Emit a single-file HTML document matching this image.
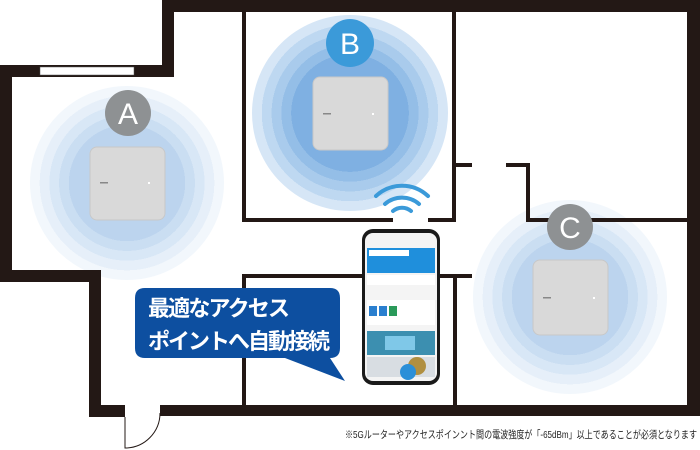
<!DOCTYPE html>
<html><head><meta charset="utf-8"><style>
html,body{margin:0;padding:0;background:#fff;}
svg{display:block;}
text{font-family:"Liberation Sans","Noto Sans CJK JP",sans-serif;}
</style></head><body>
<svg width="700" height="450" viewBox="0 0 700 450" xmlns="http://www.w3.org/2000/svg">
<defs>
<radialGradient id="gb" cx="0.5" cy="0.5" r="0.5">
<stop offset="0.6" stop-color="#7fb0e2"/><stop offset="0.6" stop-color="#94bee7"/>
<stop offset="0.7" stop-color="#94bee7"/><stop offset="0.7" stop-color="#a9cbec"/>
<stop offset="0.8" stop-color="#a9cbec"/><stop offset="0.8" stop-color="#bed8f1"/>
<stop offset="0.9" stop-color="#bed8f1"/><stop offset="0.9" stop-color="#d6e6f6"/>
<stop offset="1" stop-color="#d6e6f6"/>
</radialGradient>
<radialGradient id="ga" cx="0.5" cy="0.5" r="0.5">
<stop offset="0.6" stop-color="#bcd4ee"/><stop offset="0.6" stop-color="#cadef2"/>
<stop offset="0.7" stop-color="#cadef2"/><stop offset="0.7" stop-color="#d8e7f6"/>
<stop offset="0.8" stop-color="#d8e7f6"/><stop offset="0.8" stop-color="#e6eff9"/>
<stop offset="0.9" stop-color="#e6eff9"/><stop offset="0.9" stop-color="#f2f7fc"/>
<stop offset="1" stop-color="#f2f7fc"/>
</radialGradient>
</defs>
<circle cx="127" cy="183" r="97" fill="url(#ga)"/>
<circle cx="350" cy="113" r="98" fill="url(#gb)"/>
<circle cx="570" cy="297" r="97" fill="url(#ga)"/>

<g fill="#231815">
<rect x="162" y="0" width="538" height="12"/>
<rect x="162" y="0" width="12" height="77"/>
<rect x="0" y="65" width="174" height="12"/>
<rect x="0" y="65" width="12" height="217"/>
<rect x="0" y="270" width="101" height="12"/>
<rect x="89" y="270" width="12" height="147"/>
<rect x="89" y="405" width="36" height="12"/>
<rect x="160" y="405" width="540" height="11"/>
<rect x="687" y="0" width="13" height="416"/>
</g>
<rect x="40" y="67" width="94" height="8" fill="#fff" stroke="#555" stroke-width="0.5"/>
<path d="M125 417 L125 448 A35 35 0 0 0 160 413" fill="none" stroke="#231815" stroke-width="1"/>

<g fill="#231815">
<rect x="242" y="12" width="4" height="210"/>
<rect x="242" y="218" width="151" height="4"/>
<rect x="428" y="218" width="28" height="4"/>
<rect x="452" y="12" width="4" height="210"/>
<rect x="452" y="163" width="20" height="4"/>
<rect x="506" y="163" width="24" height="4"/>
<rect x="526" y="163" width="4" height="59"/>
<rect x="526" y="218" width="161" height="4"/>
<rect x="242" y="274" width="4" height="131"/>
<rect x="242" y="274" width="230" height="4"/>
<rect x="453" y="274" width="4" height="131"/>
</g>

<g>
<rect x="90" y="147" width="75" height="73" rx="7" fill="#d9d9d9" stroke="#c8c8c8"/>
<rect x="100" y="182" width="8" height="1.5" fill="#888"/><rect x="148" y="182" width="2" height="2" fill="#fff"/>
<rect x="313" y="77" width="75" height="73" rx="7" fill="#d9d9d9" stroke="#c8c8c8"/>
<rect x="323" y="113" width="8" height="1.5" fill="#888"/><rect x="372" y="113" width="2" height="2" fill="#fff"/>
<rect x="533" y="260" width="75" height="75" rx="7" fill="#d9d9d9" stroke="#c8c8c8"/>
<rect x="543" y="297" width="8" height="1.5" fill="#888"/><rect x="593" y="297" width="2" height="2" fill="#fff"/>
</g>

<circle cx="128" cy="113" r="23" fill="#8e9193"/>
<text x="128" y="124" text-anchor="middle" font-size="30" fill="#fff">A</text>
<circle cx="350" cy="43" r="24" fill="#3b9ad9"/>
<text x="350" y="54" text-anchor="middle" font-size="30" fill="#fff">B</text>
<circle cx="570" cy="227" r="23" fill="#8e9193"/>
<text x="570" y="238" text-anchor="middle" font-size="30" fill="#fff">C</text>

<g fill="none" stroke="#3b9ad9" stroke-width="4" stroke-linecap="round">
<path d="M376 196 A38 38 0 0 1 428 196"/>
<path d="M385 204 A26 26 0 0 1 419 204"/>
<path d="M393 211 A14 14 0 0 1 411 211"/>
</g>

<rect x="362" y="229" width="78" height="156" rx="11" fill="#1a1a1a"/>
<rect x="365" y="233" width="72" height="148" rx="8" fill="#f4f4f4"/>
<rect x="367" y="248" width="68" height="25" fill="#1f8fdc"/>
<rect x="369" y="250" width="40" height="6" fill="#fff"/>
<rect x="367" y="275" width="68" height="10" fill="#fff"/>
<rect x="367" y="300" width="68" height="25" fill="#fff"/>
<rect x="369" y="306" width="8" height="10" fill="#2a7fcf"/><rect x="379" y="306" width="8" height="10" fill="#2a7fcf"/><rect x="389" y="306" width="8" height="10" fill="#2a9a5a"/>
<rect x="367" y="331" width="68" height="24" fill="#3c8fb0"/>
<rect x="385" y="336" width="30" height="14" fill="#7fc8e8"/>
<rect x="367" y="357" width="68" height="20" fill="#d8dde2"/>
<circle cx="417" cy="366" r="9" fill="#b08f40"/>
<circle cx="408" cy="372" r="8" fill="#2a8fd8"/>

<path d="M145 288 H330 Q340 288 340 298 V348 Q340 358 330 358 H330 L345 381 L285 358 H145 Q135 358 135 348 V298 Q135 288 145 288 Z" fill="#0d4fa0"/>
<text x="148" y="316" font-size="22" font-weight="bold" fill="#fff" textLength="142">最適なアクセス</text>
<text x="148" y="349" font-size="22" font-weight="bold" fill="#fff" textLength="182">ポイントへ自動接続</text>

<text x="697" y="438" text-anchor="end" font-size="10.5" fill="#222" textLength="352" lengthAdjust="spacingAndGlyphs">※5Gルーターやアクセスポインント間の電波強度が「-65dBm」以上であることが必須となります</text>
</svg>
</body></html>
